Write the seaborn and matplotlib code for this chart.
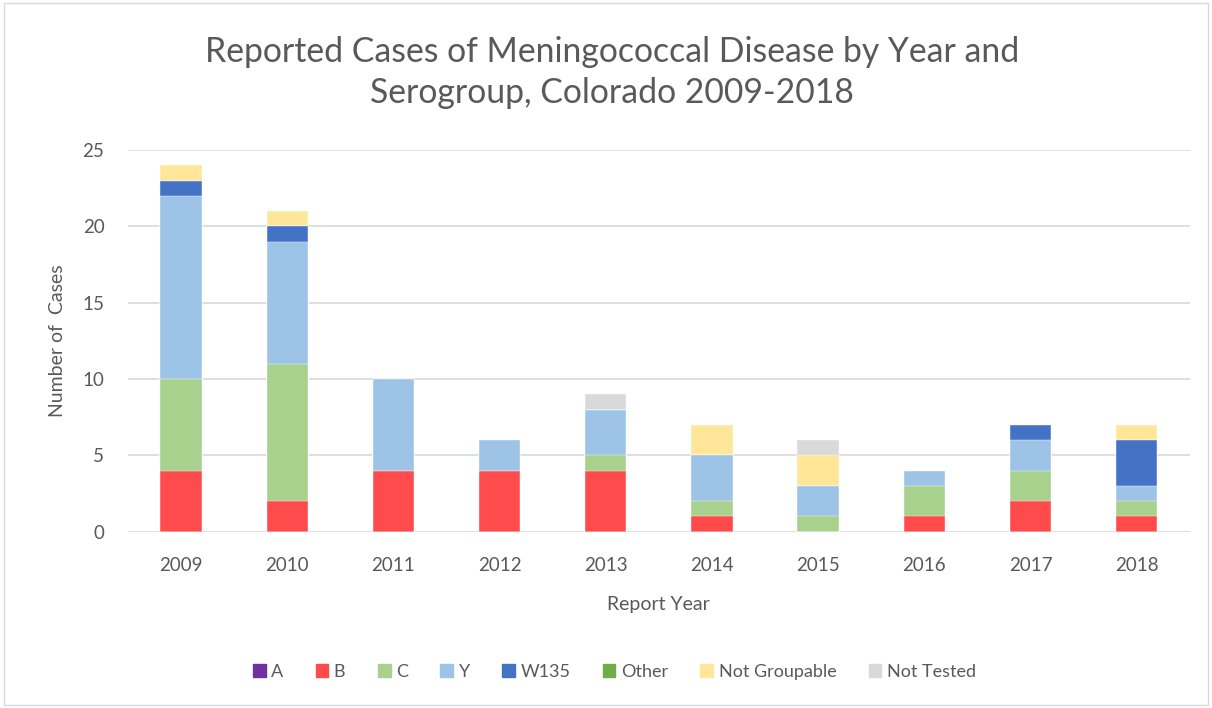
import pandas as pd
import matplotlib.pyplot as plt
import seaborn as sns
from matplotlib.patches import Rectangle

# data
years = ['2009', '2010', '2011', '2012', '2013', '2014', '2015', '2016', '2017', '2018']
sero_a = [0, 0, 0, 0, 0, 0, 0, 0, 0, 0]
sero_b = [4, 2, 4, 4, 4, 1, 0, 1, 2, 1]
sero_c = [6, 9, 0, 0, 1, 1, 1, 2, 2, 1]
sero_y = [12, 8, 6, 2, 3, 3, 2, 1, 2, 1]
sero_w135 = [1, 1, 0, 0, 0, 0, 0, 0, 1, 3]
sero_other = [0, 0, 0, 0, 0, 0, 0, 0, 0, 0]
not_groupable = [1, 1, 0, 0, 0, 2, 2, 0, 0, 1]
not_tested = [0, 0, 0, 0, 1, 0, 1, 0, 0, 0]

groups = ['A', 'B', 'C', 'Y', 'W135', 'Other', 'Not Groupable', 'Not Tested']
colors = ['#7030A0', '#FF4B4B', '#A9D18E', '#9DC3E6', '#4472C4', '#70AD47', '#FFE699', '#D9D9D9']

df = pd.DataFrame({'A': sero_a, 'B': sero_b, 'C': sero_c, 'Y': sero_y, 'W135': sero_w135,
                   'Other': sero_other, 'Not Groupable': not_groupable, 'Not Tested': not_tested},
                  index=years)
cum = df[groups].cumsum(axis=1)

sns.set_style('white')
plt.rcParams['font.family'] = ['Lato', 'DejaVu Sans']
txt = '#595959'

fig = plt.figure(figsize=(12.12, 7.08), dpi=100)
ax = fig.add_axes([0.1056, 0.249, 0.876, 0.539])

# stacked bars: draw cumulative totals from top layer down
for g, c in reversed(list(zip(groups, colors))):
    sns.barplot(x=years, y=cum[g].values, color=c, width=0.39, ax=ax,
                saturation=1, edgecolor='white', linewidth=0.3, zorder=3)

ax.set_ylim(0, 25)
ax.set_xlim(-0.5, 9.5)
ax.set_yticks(range(0, 26, 5))
ax.grid(axis='y', color='#D9D9D9', linewidth=1.2, zorder=0)
for s in ax.spines.values():
    s.set_visible(False)
ax.tick_params(length=0, colors=txt, labelsize=13.5)
ax.tick_params(axis='x', pad=18)
ax.tick_params(axis='y', pad=17)
ax.set_xlabel('Report Year', color=txt, fontsize=14, labelpad=16)
ax.set_ylabel('Number of  Cases', color=txt, fontsize=14, labelpad=12)
fig.text(0.505, 0.897, 'Reported Cases of Meningococcal Disease by Year and\nSerogroup, Colorado 2009-2018',
         color=txt, fontsize=24.3, ha='center', va='center', linespacing=1.35)

handles = [Rectangle((0, 0), 1, 1, color=c) for c in colors]
fig.legend(handles, groups, loc='center', bbox_to_anchor=(0.507, 0.051), ncol=8,
           frameon=False, fontsize=13, handlelength=0.7, handleheight=0.7,
           handletextpad=0.3, columnspacing=1.8, labelcolor=txt)

fig.patches.append(Rectangle((0.003, 0.004), 0.994, 0.992, transform=fig.transFigure,
                             fill=False, edgecolor='#D9D9D9', linewidth=1))

fig.savefig('out.png', dpi=100)
